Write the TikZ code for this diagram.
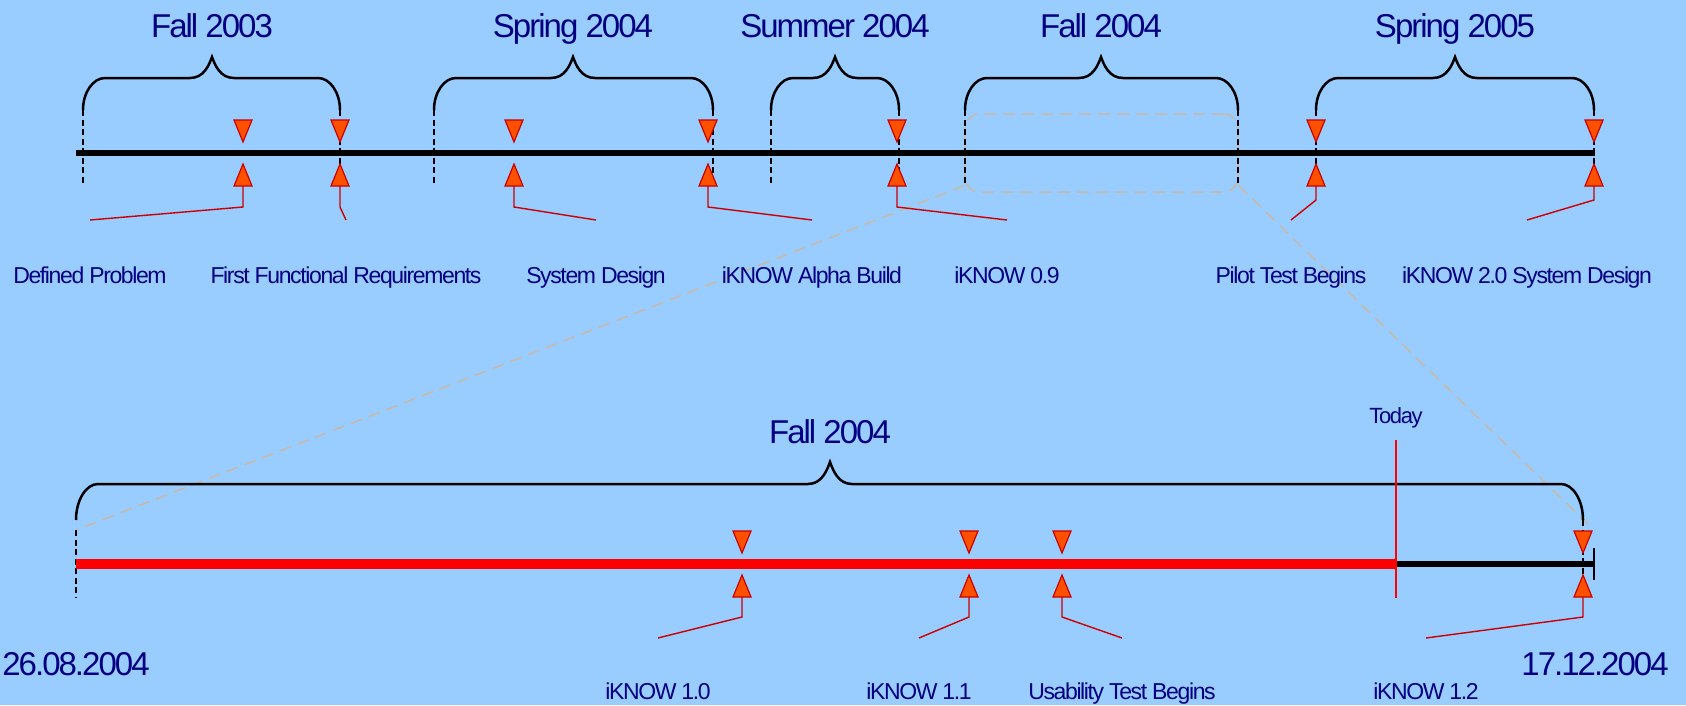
\documentclass[tikz,border=0pt]{standalone}
\usepackage{fontspec}
\setmainfont{Liberation Sans}[LetterSpace=-6]
\usetikzlibrary{calc}
\definecolor{bg}{HTML}{99CCFF}
\definecolor{navy}{HTML}{000080}
\definecolor{trifill}{HTML}{FF5000}
\definecolor{triline}{HTML}{CC0000}
\definecolor{zoomgray}{HTML}{C8B9A6}
\newcommand{\tlbrace}[6]{% xl, xr, xtip, yend, yline, ytip
  \draw[bracestyle] (#1,#4) .. controls (#1,{#5+0.45*(#4-#5)}) and ({#1+10},#5) .. ({#1+22},#5)
    -- ({#3-22},#5) .. controls ({#3-8},#5) and ({#3-3},{#6+8}) .. (#3,#6)
    .. controls ({#3+3},{#6+8}) and ({#3+8},#5) .. ({#3+22},#5)
    -- ({#2-22},#5) .. controls ({#2-10},#5) and (#2,{#5+0.45*(#4-#5)}) .. (#2,#4);}
\begin{document}
\begin{tikzpicture}[x=1pt,y=-1pt,
  bracestyle/.style={draw=black,line width=2.5pt},
  tick/.style={draw=black,line width=1.3pt,dash pattern=on 6pt off 3.5pt},
  tri/.style={fill=trifill,draw=triline,line width=1.2pt,line join=miter},
  leader/.style={draw=triline,line width=1.4pt},
  head/.style={font=\fontsize{33}{40}\selectfont,text=navy,anchor=base,inner sep=0pt},
  lab/.style={font=\fontsize{23}{28}\selectfont,text=navy,anchor=base,inner sep=0pt},
  today/.style={font=\fontsize{22}{26}\selectfont,text=navy,anchor=base,inner sep=0pt},
  zoomline/.style={draw=zoomgray,line width=1.5pt,dash pattern=on 12pt off 7pt},
  marker/.pic={
    \filldraw[tri] (-9,-33) -- (9,-33) -- (0,-11) -- cycle;
    \filldraw[tri] (-9,33) -- (9,33) -- (0,11) -- cycle;
    \coordinate (-foot) at (0,33);
  }]
\fill[bg] (0,0) rectangle (1686,705);
\useasboundingbox (0,0) rectangle (1686,705);

% zoom box and lines
\node[draw=zoomgray,line width=1.5pt,dash pattern=on 12pt off 7pt,rounded corners=14pt,
  minimum width=273pt,minimum height=78pt,inner sep=0pt] (zoombox) at (1101.5,153) {};
\coordinate (zl) at (76,530);
\coordinate (zr) at (1593,529);
\draw[zoomline] ($(zoombox.south west)+(0,-7)$) -- (zl);
\draw[zoomline] ($(zoombox.south east)+(0,-7)$) -- (zr);

% top headings
\node[head] (h1) at (212,37) {Fall 2003};
\node[head] (h2) at (573,37) {Spring 2004};
\node[head] (h3) at (835,37) {Summer 2004};
\node[head] (h4) at (1101,37) {Fall 2004};
\node[head] (h5) at (1455,37) {Spring 2005};

% top braces
\tlbrace{83}{340}{212}{110}{78}{57}
\tlbrace{434}{713}{573}{110}{78}{57}
\tlbrace{771}{899}{835}{110}{78}{57}
\tlbrace{965}{1238}{1101}{110}{78}{57}
\tlbrace{1316}{1594}{1455}{110}{78}{57}

% top ticks
\foreach \x in {83,340,434,713,771,899,965,1238,1316,1594}
  \draw[tick] (\x,110) -- (\x,185);

% top timeline
\coordinate (t0) at (76,153);
\coordinate (t1) at (1595,153);
\draw[line width=5.5pt] (t0) -- (t1);

% top markers
\pic (m1) at (243,153) {marker};
\pic (m2) at (340,153) {marker};
\pic (m3) at (514,153) {marker};
\pic (m4) at (708,153) {marker};
\pic (m5) at (897,153) {marker};
\pic (m6) at (1316,153) {marker};
\pic (m7) at (1594,153) {marker};

% top labels
\node[lab] (l1) at (90,283) {Defined Problem};
\node[lab] (l2) at (346,283) {First Functional Requirements};
\node[lab] (l3) at (596,283) {System Design};
\node[lab] (l4) at (812,283) {iKNOW Alpha Build};
\node[lab] (l5) at (1007,283) {iKNOW 0.9};
\node[lab] (l6) at (1291,283) {Pilot Test Begins};
\node[lab] (l7) at (1527,283) {iKNOW 2.0 System Design};

\draw[leader] (m1-foot) -- ++(0,21) -- ($(l1.base)+(0,-63)$);
\draw[leader] (m2-foot) -- ++(0,21) -- ($(l2.base)+(0,-63)$);
\draw[leader] (m3-foot) -- ++(0,21) -- ($(l3.base)+(0,-63)$);
\draw[leader] (m4-foot) -- ++(0,21) -- ($(l4.base)+(0,-63)$);
\draw[leader] (m5-foot) -- ++(0,21) -- ($(l5.base)+(0,-63)$);
\draw[leader] (m6-foot) -- ++(0,14) -- ($(l6.base)+(0,-63)$);
\draw[leader] (m7-foot) -- ++(0,14) -- ($(l7.base)+(0,-63)$);

% bottom part
\node[head] (hb) at (830,443) {Fall 2004};
\tlbrace{76}{1583}{830}{520}{484}{462}
\draw[tick] (76,530) -- (76,597);
\draw[tick] (1583,520) -- (1583,590);

\coordinate (b0) at (76,564);
\coordinate (btoday) at (1396,564);
\coordinate (bend) at (1594,564);
\draw[red,line width=10pt] (b0) -- (btoday);
\draw[line width=6pt] (btoday) -- (bend);
\draw[line width=2pt] ($(bend)+(0,-16)$) -- ($(bend)+(0,16)$);

\node[today] (td) at (1396,423) {Today};
\draw[red,line width=1.5pt] (1396,440) -- (1396,598);

\pic (n1) at (742,564) {marker};
\pic (n2) at (969,564) {marker};
\pic (n3) at (1062,564) {marker};
\pic (n4) at (1583,564) {marker};

\node[lab] (k1) at (658,699) {iKNOW 1.0};
\node[lab] (k2) at (919,699) {iKNOW 1.1};
\node[lab] (k3) at (1122,699) {Usability Test Begins};
\node[lab] (k4) at (1426,699) {iKNOW 1.2};

\draw[leader] (n1-foot) -- ++(0,20) -- ($(k1.base)+(0,-61)$);
\draw[leader] (n2-foot) -- ++(0,20) -- ($(k2.base)+(0,-61)$);
\draw[leader] (n3-foot) -- ++(0,20) -- ($(k3.base)+(0,-61)$);
\draw[leader] (n4-foot) -- ++(0,20) -- ($(k4.base)+(0,-61)$);

\node[head] (d1) at (76,675) {26.08.2004};
\node[head] (d2) at (1595,675) {17.12.2004};
\end{tikzpicture}
\end{document}
